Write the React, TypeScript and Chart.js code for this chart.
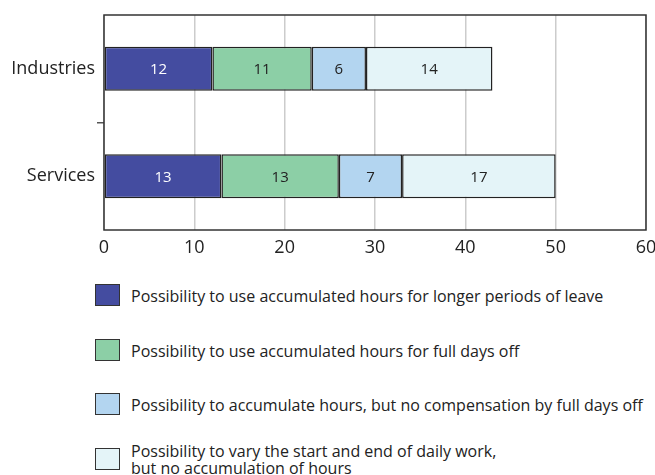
import React, { useEffect, useRef } from "react";
import { Chart, registerables } from "chart.js";

Chart.register(...registerables);

const categories = ["Industries", "Services"];
const seriesLabels = [
  "Possibility to use accumulated hours for longer periods of leave",
  "Possibility to use accumulated hours for full days off",
  "Possibility to accumulate hours, but no compensation by full days off",
  "Possibility to vary the start and end of daily work,\nbut no accumulation of hours",
];
const longerLeave = [12, 13];
const fullDaysOff = [11, 13];
const noCompensation = [6, 7];
const varyStartEnd = [14, 17];
const xTicks = [0, 10, 20, 30, 40, 50, 60];

const colors = ["#444ca0", "#8ccfa6", "#b3d5f0", "#e4f4f8"];
const labelColors = ["#ffffff", "#222222", "#222222", "#222222"];
const FONT = "'Open Sans', 'Noto Sans', sans-serif";

export default function App() {
  const ref = useRef<HTMLCanvasElement | null>(null);

  useEffect(() => {
    document.body.style.margin = "0";
    const series = [longerLeave, fullDaysOff, noCompensation, varyStartEnd];
    const borderPlugin = {
      id: "plotBorder",
      afterDatasetsDraw(chart: any) {
        const { ctx, chartArea } = chart;
        ctx.save();
        ctx.strokeStyle = "#333333";
        ctx.lineWidth = 1.5;
        ctx.strokeRect(chartArea.left, chartArea.top, chartArea.right - chartArea.left, chartArea.bottom - chartArea.top);
        ctx.restore();
      },
    };
    const valuePlugin = {
      id: "values",
      afterDatasetsDraw(chart: any) {
        const { ctx } = chart;
        ctx.save();
        ctx.font = `15px ${FONT}`;
        ctx.textAlign = "center";
        ctx.textBaseline = "middle";
        chart.data.datasets.forEach((ds: any, di: number) => {
          const meta = chart.getDatasetMeta(di);
          meta.data.forEach((el: any, i: number) => {
            const x = (el.x + el.base) / 2;
            ctx.fillStyle = labelColors[di];
            ctx.fillText(String(ds.data[i]), x, el.y + 1);
          });
        });
        ctx.restore();
      },
    };
    const chart = new Chart(ref.current as HTMLCanvasElement, {
      type: "bar",
      data: {
        labels: categories,
        datasets: series.map((d, i) => ({
          label: seriesLabels[i],
          data: d,
          backgroundColor: colors[i],
          borderColor: "#222222",
          borderWidth: 1.5,
          borderSkipped: false,
          categoryPercentage: 0.8,
          barPercentage: 0.51,
        })),
      },
      options: {
        indexAxis: "y",
        animation: false,
        responsive: false,
        maintainAspectRatio: false,
        layout: { padding: { top: 15, right: 9, left: 0, bottom: 0 } },
        plugins: { legend: { display: false }, tooltip: { enabled: false } },
        scales: {
          x: {
            stacked: true,
            min: 0,
            max: 60,
            afterBuildTicks: (s: any) => {
              s.ticks = xTicks.map((v) => ({ value: v }));
            },
            afterFit: (s: any) => {
              s.height = 30;
              s.paddingLeft = 0;
              s.paddingRight = 0;
            },
            border: { display: false },
            grid: {
              drawTicks: false,
              color: "#cccccc",
              lineWidth: 1.5,
            },
            ticks: {
              padding: 7,
              color: "#222222",
              font: { size: 18, family: FONT },
              maxRotation: 0,
            },
          },
          y: {
            stacked: true,
            afterFit: (s: any) => {
              s.width = 104;
              s.paddingTop = 0;
              s.paddingBottom = 0;
            },
            border: { display: false },
            grid: {
              offset: true,
              drawOnChartArea: false,
              tickLength: 7,
              lineWidth: 1.5,
              color: (c: any) => (c.index === 1 ? "#555555" : "rgba(0,0,0,0)"),
            },
            ticks: {
              padding: 2,
              color: "#222222",
              font: { size: 18, family: FONT },
            },
          },
        },
      },
      plugins: [valuePlugin, borderPlugin],
    } as any);
    return () => chart.destroy();
  }, []);

  const legendTops = [283, 338, 392, 447];

  return (
    <div style={{ position: "relative", width: 655, height: 475, fontFamily: FONT, color: "#222" }}>
      <canvas ref={ref} width={655} height={260} style={{ position: "absolute", left: 0, top: 0, width: 655, height: 260 }} />
      {seriesLabels.map((lab, i) => (
        <div
          key={i}
          style={{ position: "absolute", left: 95, top: legendTops[i], height: 23, display: "flex", alignItems: "center" }}
        >
          <div
            style={{
              width: 23,
              height: 20,
              background: colors[i],
              border: "1.5px solid #333",
              flex: "none",
            }}
          />
          <div style={{ marginLeft: 11, fontSize: 16, lineHeight: "17px", whiteSpace: "pre", paddingTop: 3 }}>{lab}</div>
        </div>
      ))}
    </div>
  );
}
